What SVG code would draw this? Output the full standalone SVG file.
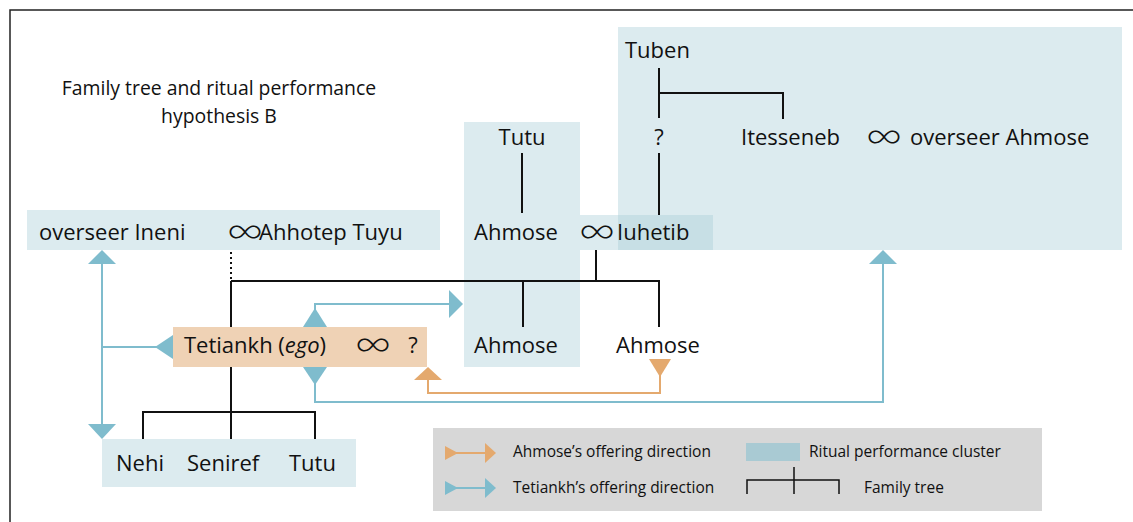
<svg xmlns="http://www.w3.org/2000/svg" width="1133" height="522" viewBox="0 0 1133 522">
<style>
.frame{fill:none;stroke:#222;stroke-width:1.5}
.cl{fill:#a8cdd8;fill-opacity:0.4}
.ego{fill:#efd2b5}
.t{font-family:"Open Sans","Liberation Sans",sans-serif;font-size:22px;fill:#111}
.title{font-family:"Open Sans","Liberation Sans",sans-serif;font-size:19.4px;fill:#111;text-anchor:middle}
.lg{font-family:"Open Sans","Liberation Sans",sans-serif;font-size:15.5px;fill:#111}
.inf{font-family:Inter,"Noto Sans",sans-serif;font-weight:200;font-size:36px;fill:#111;text-anchor:middle}
.tree{fill:none;stroke:#111;stroke-width:2}
.dot{fill:none;stroke:#111;stroke-width:2;stroke-dasharray:2 3}
.blue{fill:none;stroke:#7fbccd;stroke-width:2}
.bluef{fill:#7fbccd}
.or{fill:none;stroke:#e4a96e;stroke-width:2}
.orf{fill:#e4a96e}
</style>
<path class="frame" d="M10,522 V10 H1133"/>
<text class="title" x="219" y="95">Family tree and ritual performance</text>
<text class="title" x="219" y="123">hypothesis B</text>

<g id="cluster-tuben"><rect class="cl" x="618" y="27" width="504" height="223"/></g>
<g id="cluster-tutu"><rect class="cl" x="464" y="122" width="116" height="245"/></g>
<g id="box-iuhetib"><rect class="cl" x="580" y="215" width="133" height="35"/></g>

<g id="node-ineni">
<rect class="cl" x="27" y="210" width="413" height="40"/>
<text class="t" x="39" y="240">overseer Ineni</text>
<text class="inf" transform="translate(245,243) scale(1.1,1)">∞</text>
<text class="t" x="259" y="240">Ahhotep Tuyu</text>
</g>
<g id="node-tuben"><text class="t" x="625" y="58">Tuben</text></g>
<g id="node-unknown-top"><text class="t" x="659" y="145" text-anchor="middle">?</text></g>
<g id="node-itesseneb">
<text class="t" x="741" y="145">Itesseneb</text>
<text class="inf" transform="translate(884,148) scale(1.1,1)">∞</text>
<text class="t" x="910" y="145">overseer Ahmose</text>
</g>
<g id="node-tutu-top"><text class="t" x="522" y="145" text-anchor="middle">Tutu</text></g>
<g id="node-ahmose-couple">
<text class="t" x="474" y="240">Ahmose</text>
<text class="inf" transform="translate(597,243) scale(1.1,1)">∞</text>
<text class="t" x="617" y="240">Iuhetib</text>
</g>
<g id="node-tetiankh">
<rect class="ego" x="173" y="327" width="254" height="40"/>
<text class="t" x="184" y="353">Tetiankh (<tspan font-style="italic">ego</tspan>)</text>
<text class="inf" transform="translate(373,356) scale(1.1,1)">∞</text>
<text class="t" x="413" y="353" text-anchor="middle">?</text>
</g>
<g id="node-ahmose-a"><text class="t" x="474" y="353">Ahmose</text></g>
<g id="node-ahmose-b"><text class="t" x="616" y="353">Ahmose</text></g>
<g id="node-children">
<rect class="cl" x="102" y="439" width="254" height="48"/>
<text class="t" x="116" y="471">Nehi</text>
<text class="t" x="187" y="471">Seniref</text>
<text class="t" x="289" y="471">Tutu</text>
</g>

<g id="connectors">
<path class="tree" d="M659,68 V118 M659,93 H783 V119 M659,153 V215 M522,153 V213 M596,250 V281 M231,281 H659 V327 M523,281 V327 M231,281 V327 M231,367 V439 M143,439 V412 H315 V439"/>
<path class="dot" d="M231,252 V280"/>
<path class="blue" d="M102,262 V426 M102,347 H157"/>
<polygon class="bluef" points="102,250 116,264 88,264"/>
<polygon class="bluef" points="102,439 116,424 88,424"/>
<polygon class="bluef" points="155,347 173,335 173,359"/>
<path class="blue" d="M315,310 V304 H451"/>
<polygon class="bluef" points="315,308 327,327 303,327"/>
<polygon class="bluef" points="463,304 449,290 449,318"/>
<path class="blue" d="M315,383 V402 H883 V262"/>
<polygon class="bluef" points="315,385 327,367 303,367"/>
<polygon class="bluef" points="883,250 897,264 869,264"/>
<path class="or" d="M660,375 V393 H428 V378"/>
<polygon class="orf" points="660,377 671,359 649,359"/>
<polygon class="orf" points="428,367 442,380 414,380"/>
</g>

<g id="legend">
<rect x="433" y="428" width="609" height="83" fill="#d7d7d7"/>
<path class="or" d="M450,453 H487"/>
<polygon class="orf" points="445,446 458,453 445,460"/>
<polygon class="orf" points="496,453 485,443 485,463"/>
<text class="lg" x="513" y="457">Ahmose’s offering direction</text>
<path class="blue" d="M450,488 H487"/>
<polygon class="bluef" points="445,481 458,488 445,495"/>
<polygon class="bluef" points="496,488 485,478 485,498"/>
<text class="lg" x="513" y="493">Tetiankh’s offering direction</text>
<rect x="746" y="443" width="54" height="18" fill="#a9cad3"/>
<text class="lg" x="809" y="457">Ritual performance cluster</text>
<path fill="none" stroke="#111" stroke-width="1.5" d="M747,494 V480 H839 V494 M794,467 V494"/>
<text class="lg" x="864" y="493">Family tree</text>
</g>
</svg>
